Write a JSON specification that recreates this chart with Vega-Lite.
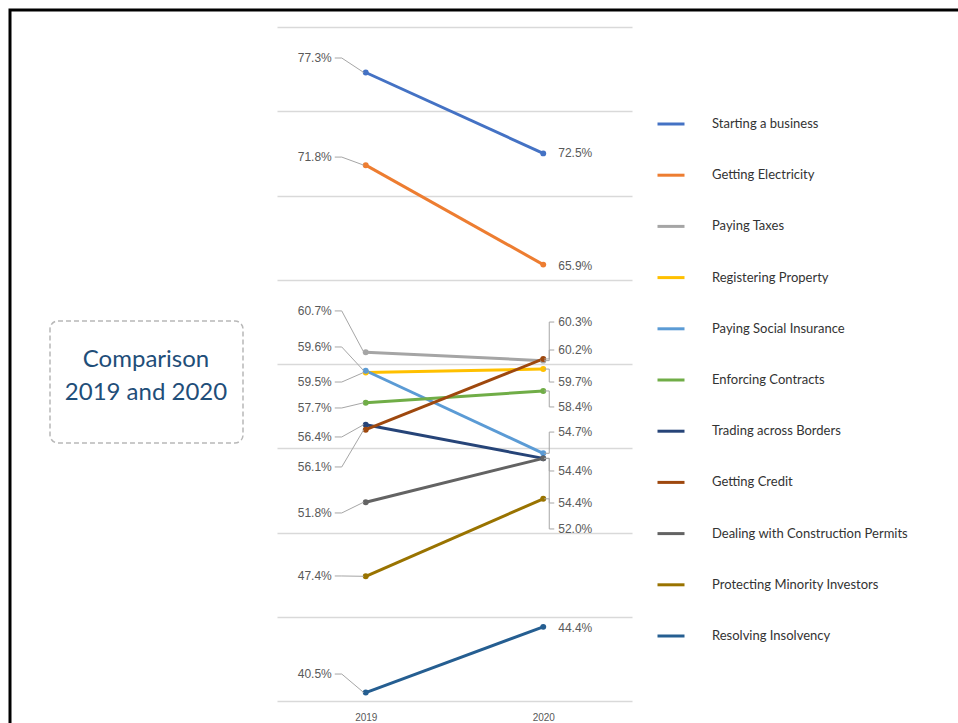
{
  "$schema": "https://vega.github.io/schema/vega-lite/v6.json",
  "width": 355,
  "height": 674,
  "autosize": {"type": "none"},
  "padding": {"left": 277, "top": 27, "right": 326, "bottom": 22},
  "background": "white",
  "config": {
    "view": {"stroke": null},
    "axisY": {"title": null, "domain": false, "ticks": false, "labels": false, "grid": true, "gridColor": "#d9d9d9", "gridWidth": 1.5}
  },
  "datasets": {
    "scores": [
      {"cat": "Starting a business", "year": "2019", "v": 77.3, "lab": 78.16},
      {"cat": "Starting a business", "year": "2020", "v": 72.5, "lab": 72.5},
      {"cat": "Getting Electricity", "year": "2019", "v": 71.8, "lab": 72.28},
      {"cat": "Getting Electricity", "year": "2020", "v": 65.9, "lab": 65.8},
      {"cat": "Paying Taxes", "year": "2019", "v": 60.7, "lab": 63.15},
      {"cat": "Paying Taxes", "year": "2020", "v": 60.2, "lab": 60.83},
      {"cat": "Registering Property", "year": "2019", "v": 59.5, "lab": 58.93},
      {"cat": "Registering Property", "year": "2020", "v": 59.7, "lab": 58.93},
      {"cat": "Paying Social Insurance", "year": "2019", "v": 59.6, "lab": 61.01},
      {"cat": "Paying Social Insurance", "year": "2020", "v": 54.7, "lab": 55.96},
      {"cat": "Enforcing Contracts", "year": "2019", "v": 57.7, "lab": 57.39},
      {"cat": "Enforcing Contracts", "year": "2020", "v": 58.4, "lab": 57.45},
      {"cat": "Trading across Borders", "year": "2019", "v": 56.4, "lab": 55.67},
      {"cat": "Trading across Borders", "year": "2020", "v": 54.4, "lab": 53.65},
      {"cat": "Getting Credit", "year": "2019", "v": 56.1, "lab": 53.89},
      {"cat": "Getting Credit", "year": "2020", "v": 60.3, "lab": 62.49},
      {"cat": "Dealing with Construction Permits", "year": "2019", "v": 51.8, "lab": 51.16},
      {"cat": "Dealing with Construction Permits", "year": "2020", "v": 54.4, "lab": 51.75},
      {"cat": "Protecting Minority Investors", "year": "2019", "v": 47.4, "lab": 47.42},
      {"cat": "Protecting Minority Investors", "year": "2020", "v": 52.0, "lab": 50.21},
      {"cat": "Resolving Insolvency", "year": "2019", "v": 40.5, "lab": 41.6},
      {"cat": "Resolving Insolvency", "year": "2020", "v": 44.4, "lab": 44.33}
    ],
    "deco": [{"caption": ["Comparison", "2019 and 2020"]}]
  },
  "data": {"name": "scores"},
  "transform": [
    {"calculate": "format(datum.v, '.1f') + '%'", "as": "lbl"}
  ],
  "encoding": {
    "x": {
      "field": "year",
      "type": "ordinal",
      "scale": {"type": "point", "padding": 0.5},
      "axis": {
        "title": null,
        "domain": false,
        "ticks": false,
        "grid": false,
        "labelAngle": 0,
        "labelPadding": 11,
        "labelFont": "Liberation Sans",
        "labelFontSize": 10,
        "labelColor": "#595959"
      }
    }
  },
  "layer": [
    {
      "data": {"name": "deco"},
      "mark": {"type": "rect", "fill": null, "stroke": "#000000", "strokeWidth": 3, "x": -267, "x2": 720, "y": -17, "y2": 720},
      "encoding": {"x": null}
    },
    {
      "data": {"name": "deco"},
      "mark": {"type": "rect", "fill": "white", "stroke": "#b8b8b8", "strokeWidth": 1.5, "strokeDash": [5, 3], "cornerRadius": 8, "x": -227, "x2": -34, "y": 294, "y2": 416},
      "encoding": {"x": null}
    },
    {
      "data": {"name": "deco"},
      "mark": {"type": "text", "font": "Lato", "fontSize": 24, "color": "#1f4e79", "align": "center", "baseline": "middle", "lineHeight": 33, "x": -131, "y": 333},
      "encoding": {"x": null, "text": {"field": "caption"}}
    },
    {
      "mark": {"type": "line", "strokeWidth": 3},
      "encoding": {
        "y": {
          "field": "v",
          "type": "quantitative",
          "scale": {"domain": [40, 80], "nice": false, "zero": false},
          "axis": {"values": [40, 45, 50, 55, 60, 65, 70, 75, 80]}
        },
        "color": {
          "field": "cat",
          "type": "nominal",
          "scale": {
            "domain": ["Starting a business", "Getting Electricity", "Paying Taxes", "Registering Property", "Paying Social Insurance", "Enforcing Contracts", "Trading across Borders", "Getting Credit", "Dealing with Construction Permits", "Protecting Minority Investors", "Resolving Insolvency"],
            "range": ["#4472c4", "#ed7d31", "#a5a5a5", "#ffc000", "#5b9bd5", "#70ad47", "#264478", "#9e480e", "#636363", "#997300", "#255e91"]
          },
          "legend": {
            "orient": "none",
            "legendX": 379,
            "legendY": 82,
            "title": null,
            "padding": 0,
            "symbolType": "stroke",
            "symbolSize": 729,
            "symbolStrokeWidth": 3,
            "labelOffset": 26,
            "labelFont": "Lato",
            "labelFontSize": 13,
            "labelColor": "#333333",
            "labelLimit": 300,
            "rowPadding": 29.2
          }
        }
      }
    },
    {
      "mark": {"type": "circle", "size": 35, "opacity": 1},
      "encoding": {
        "y": {"field": "v", "type": "quantitative"},
        "color": {"field": "cat", "type": "nominal", "legend": null}
      }
    },
    {
      "transform": [{"filter": "datum.year == '2019'"}],
      "mark": {"type": "rule", "color": "#a6a6a6", "strokeWidth": 1, "xOffset": -31, "x2Offset": -24},
      "encoding": {
        "x2": {"field": "year"},
        "y": {"field": "lab", "type": "quantitative"}
      }
    },
    {
      "transform": [{"filter": "datum.year == '2019'"}],
      "mark": {"type": "rule", "color": "#a6a6a6", "strokeWidth": 1, "xOffset": -24, "x2Offset": -2},
      "encoding": {
        "x2": {"field": "year"},
        "y": {"field": "lab", "type": "quantitative"},
        "y2": {"field": "v"}
      }
    },
    {
      "transform": [{"filter": "datum.year == '2020' && abs(datum.lab - datum.v) > 0.3"}],
      "mark": {"type": "rule", "color": "#a6a6a6", "strokeWidth": 1, "xOffset": 1, "x2Offset": 6},
      "encoding": {
        "x2": {"field": "year"},
        "y": {"field": "v", "type": "quantitative"}
      }
    },
    {
      "transform": [{"filter": "datum.year == '2020' && abs(datum.lab - datum.v) > 0.3"}],
      "mark": {"type": "rule", "color": "#a6a6a6", "strokeWidth": 1, "xOffset": 6},
      "encoding": {
        "y": {"field": "v", "type": "quantitative"},
        "y2": {"field": "lab"}
      }
    },
    {
      "transform": [{"filter": "datum.year == '2020' && abs(datum.lab - datum.v) > 0.3"}],
      "mark": {"type": "rule", "color": "#a6a6a6", "strokeWidth": 1, "xOffset": 6, "x2Offset": 11},
      "encoding": {
        "x2": {"field": "year"},
        "y": {"field": "lab", "type": "quantitative"}
      }
    },
    {
      "transform": [{"filter": "datum.year == '2019'"}],
      "mark": {"type": "text", "align": "right", "baseline": "middle", "xOffset": -34, "font": "Liberation Sans", "fontSize": 12, "color": "#595959"},
      "encoding": {
        "y": {"field": "lab", "type": "quantitative"},
        "text": {"field": "lbl"}
      }
    },
    {
      "transform": [{"filter": "datum.year == '2020'"}],
      "mark": {"type": "text", "align": "left", "baseline": "middle", "xOffset": 15, "font": "Liberation Sans", "fontSize": 12, "color": "#595959"},
      "encoding": {
        "y": {"field": "lab", "type": "quantitative"},
        "text": {"field": "lbl"}
      }
    }
  ]
}
